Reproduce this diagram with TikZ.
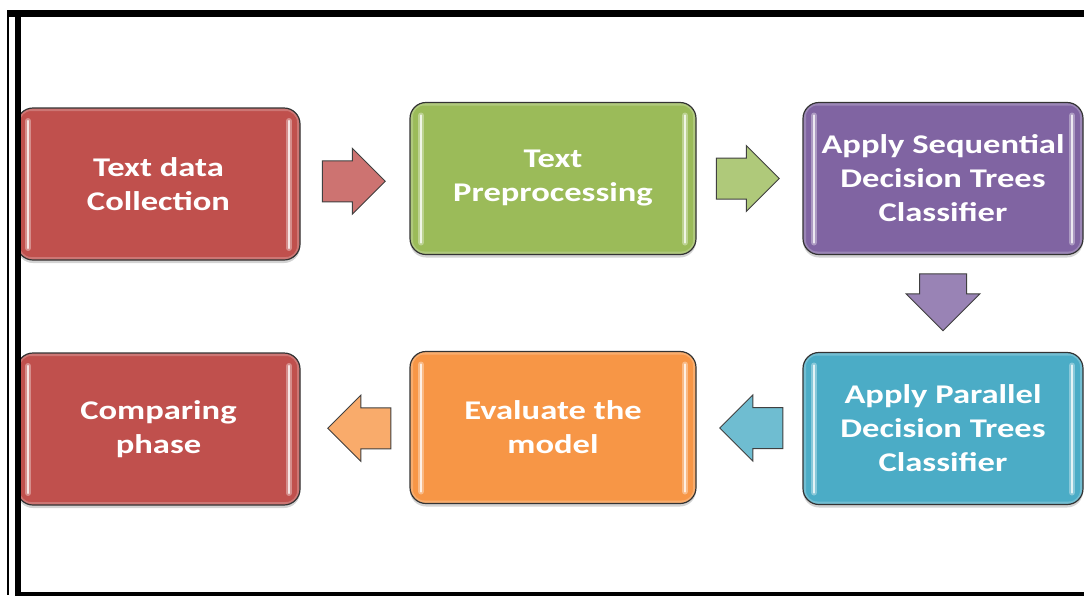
\documentclass[tikz,border=0pt]{standalone}
\usepackage{fontspec}
\newfontfamily\stagefont{Carlito}[FakeStretch=1.28]
\usetikzlibrary{shapes.arrows,shadows,calc}
\definecolor{stagered}{HTML}{C0504D}
\definecolor{stagegreen}{HTML}{9BBB59}
\definecolor{stagepurple}{HTML}{8064A2}
\definecolor{stagecyan}{HTML}{4BACC6}
\definecolor{stageorange}{HTML}{F79646}

\begin{document}
\begin{tikzpicture}[x=1pt, y=-1pt,
  stage/.style={draw=black!80, line width=1.2pt, rounded corners=16pt,
                fill=#1, text=white, align=center,
                minimum width=283pt, minimum height=152pt,
                font=\stagefont\bfseries\fontsize{27}{34}\selectfont,
                drop shadow={shadow xshift=0pt, shadow yshift=-3pt, opacity=.35},
                path picture={
                  % soft inner rim
                  \draw[white, opacity=.22, line width=6pt, rounded corners=14pt]
                    (path picture bounding box.south west) rectangle
                    (path picture bounding box.north east);
                  % glossy side strips
                  \draw[white, opacity=.35, line width=6pt, line cap=round]
                    ([xshift=11pt,yshift=-13pt]path picture bounding box.north west) --
                    ([xshift=11pt,yshift=12pt]path picture bounding box.south west)
                    ([xshift=-11pt,yshift=-13pt]path picture bounding box.north east) --
                    ([xshift=-11pt,yshift=12pt]path picture bounding box.south east);
                  \draw[white!85!#1, line width=2.2pt, line cap=round]
                    ([xshift=11pt,yshift=-13pt]path picture bounding box.north west) --
                    ([xshift=11pt,yshift=12pt]path picture bounding box.south west)
                    ([xshift=-11pt,yshift=-13pt]path picture bounding box.north east) --
                    ([xshift=-11pt,yshift=12pt]path picture bounding box.south east);
                }},
  flow/.style={shape=single arrow, draw=black!75, line width=1pt,
               fill=#1!80!white, inner xsep=0pt, inner ysep=20pt,
               minimum height=63pt, single arrow head extend=12.5pt},
]
\useasboundingbox (0,0) rectangle (1084,595);

% top row
\node[stage=stagered]                          (collect) at (158.5,184) {Text data\\Collection};
\node[stage=stagegreen, minimum width=286pt]   (prep)    at (553,178.5) {Text\\Preprocessing};
\node[stage=stagepurple, minimum width=280pt]  (seq)     at (943,178.5) {Apply Sequential\\Decision Trees\\Classifier};
% bottom row
\node[stage=stagered]                          (compare) at (158.5,429) {Comparing\\phase};
\node[stage=stageorange, minimum width=286pt]  (eval)    at (553,427.5) {Evaluate the\\model};
\node[stage=stagecyan, minimum width=280pt]    (par)     at (943,428.5) {Apply Parallel\\Decision Trees\\Classifier};

% block arrows between the stages (arrow centre sits behind the tip, hence the offsets)
\node[flow=stagered]    (a1) at ($(collect.east)!.5!(prep.west)+(-11.5,0)$) {};
\node[flow=stagegreen]  (a2) at ($(prep.east)!.5!(seq.west)+(-12,0)$) {};
\node[flow=stagepurple, rotate=270, minimum height=57pt, inner ysep=23pt,
      single arrow head extend=13.5pt]
                        (a3) at ($(seq.south)!.5!(par.north)+(0,-13)$) {};
\node[flow=stagecyan, rotate=180]   (a4) at ($(par.west)!.5!(eval.east)+(12,0)$) {};
\node[flow=stageorange, rotate=180] (a5) at ($(eval.west)!.5!(compare.east)+(14.5,0)$) {};

% page frame
\draw[line width=2pt] (8.3,10) -- (8.3,595);
\draw[line width=6pt] (18,10) -- (18,595);
\draw[line width=7pt] (7.3,13.5) -- (1084,13.5);
\draw[line width=4pt] (15,593.5) -- (1084,593.5);
\end{tikzpicture}
\end{document}
